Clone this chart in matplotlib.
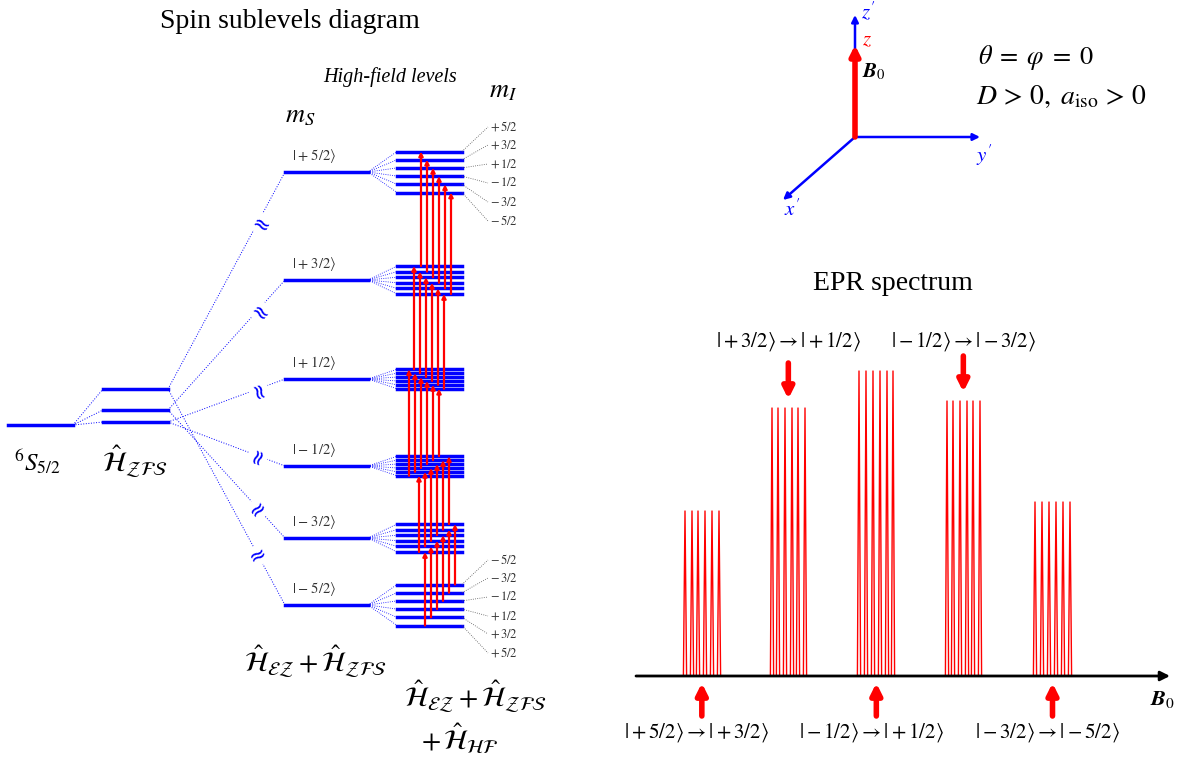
import numpy as np
import matplotlib.pyplot as plt

plt.rcParams['font.family'] = ['Liberation Serif', 'DejaVu Serif']
plt.rcParams['mathtext.fontset'] = 'stix'

# --- level diagram (picture pixel units, y grows downward) ---
ms_labels = ['+5/2', '+3/2', '+1/2', '-1/2', '-3/2', '-5/2']
ms_y = [172, 280, 379, 466, 538, 605]
ms_sign = [1, 1, 1, -1, -1, -1]
hf_step = [8.2, 5.6, 3.9, 3.9, 5.6, 8.2]      # gap between neighbouring m_I lines
mi_values = [2.5, 1.5, 0.5, -0.5, -1.5, -2.5]
zfs_y = [389, 410, 422]
zfs_of_ms = [0, 1, 2, 2, 1, 0]
s_y = 425
arrow_x0 = [421, 414, 409, 419, 425]        # first arrow of each Δm_S=1 set, top to bottom
arrow_dx = 6
mi_top_y = [127, 145, 164, 183, 202, 221]
mi_top_txt = ['+5/2', '+3/2', '+1/2', '-1/2', '-3/2', '-5/2']
mi_bot_y = [560, 578, 597, 616, 634, 653]
mi_bot_txt = ['-5/2', '-3/2', '-1/2', '+1/2', '+3/2', '+5/2']

# --- EPR spectrum ---
spec_lines = [
    [685, 692, 698, 705, 712, 719],
    [772, 778, 785, 792, 798, 805],
    [859, 866, 873, 880, 887, 893],
    [947, 953, 960, 967, 973, 980],
    [1035, 1042, 1049, 1056, 1063, 1070],
]
spec_top = [511, 408, 371, 401, 502]
baseline_y = 676
spec_labels = [r'$|+5/2\rangle \rightarrow |+3/2\rangle$',
               r'$|+3/2\rangle \rightarrow |+1/2\rangle$',
               r'$|-1/2\rangle \rightarrow |+1/2\rangle$',
               r'$|-1/2\rangle \rightarrow |-3/2\rangle$',
               r'$|-3/2\rangle \rightarrow |-5/2\rangle$']

BLUE = '#0000ff'
RED = '#ff0000'

fig = plt.figure(figsize=(11.84, 7.58), dpi=100)
ax = fig.add_axes([0, 0, 1, 1])
ax.set_xlim(0, 1184)
ax.set_ylim(758, 0)
ax.axis('off')


def fmt(s):
    return '$' + s[0] + r'\,' + s[1:] + '$'


def line_y(j, mi):
    return ms_y[j] - ms_sign[j] * hf_step[j] * mi


# titles
ax.text(290, 22, 'Spin sublevels diagram', fontsize=20, ha='center', va='center')
ax.text(390, 77, 'High-field levels', fontsize=14.5, style='italic', ha='center', va='center')
ax.text(300, 117, r'$m_S$', fontsize=19, ha='center', va='center')
ax.text(503, 92, r'$m_I$', fontsize=19, ha='center', va='center')

# 6S5/2 and ZFS levels
ax.plot([8, 73], [s_y, s_y], color=BLUE, lw=2.5)
for zy in zfs_y:
    ax.plot([103, 168], [zy, zy], color=BLUE, lw=2.5)
    ax.plot([73, 103], [s_y, zy], color=BLUE, lw=0.7, ls=':')
ax.text(37, 462, r'$^{6}S_{5/2}$', fontsize=18, ha='center', va='center')
ax.text(135, 462, r'$\hat{\mathcal{H}}_{\mathcal{ZFS}}$', fontsize=20, ha='center', va='center')

# m_S levels with break marks
for j, y in enumerate(ms_y):
    zy = zfs_y[zfs_of_ms[j]]
    ax.plot([168, 285], [zy, y], color=BLUE, lw=0.7, ls=':')
    t = 0.77
    bx, by = 168 + t * 117, zy + t * (y - zy)
    ang = np.degrees(np.arctan2(-(y - zy), 117))
    ax.text(bx, by, '≈', fontsize=15, color=BLUE, rotation=ang + 90,
            ha='center', va='center', rotation_mode='anchor', family='DejaVu Sans',
            bbox=dict(fc='white', ec='none', pad=0.0))
    ax.plot([285, 368], [y, y], color=BLUE, lw=2.5)
    ax.text(292, y - 16, r'$|' + ms_labels[j][0] + r'\,' + ms_labels[j][1:] + r'\rangle$',
            fontsize=10.5, color='#333333', ha='left', va='center')
    for mi in mi_values:
        ly = line_y(j, mi)
        ax.plot([368, 397], [y, ly], color=BLUE, lw=0.6, ls=':')
        ax.plot([397, 462], [ly, ly], color=BLUE, lw=2.5)

ax.text(315, 662, r'$\hat{\mathcal{H}}_{\mathcal{EZ}} + \hat{\mathcal{H}}_{\mathcal{ZFS}}$',
        fontsize=20, ha='center', va='center')
ax.text(475, 697, r'$\hat{\mathcal{H}}_{\mathcal{EZ}} + \hat{\mathcal{H}}_{\mathcal{ZFS}}$',
        fontsize=20, ha='center', va='center')
ax.text(460, 738, r'$+\,\hat{\mathcal{H}}_{\mathcal{HF}}$', fontsize=20, ha='center', va='center')

# m_I labels
for k, mi in enumerate(mi_values):
    ax.plot([462, 488], [line_y(0, mi), mi_top_y[k]], color='#555555', lw=0.6, ls=':')
    ax.text(490, mi_top_y[k], fmt(mi_top_txt[k]), fontsize=9, color='#333333', va='center')
    ax.plot([462, 488], [line_y(5, mi_values[5 - k]), mi_bot_y[k]], color='#555555', lw=0.6, ls=':')
    ax.text(490, mi_bot_y[k], fmt(mi_bot_txt[k]), fontsize=9, color='#333333', va='center')

# allowed transitions (Δm_S = 1, Δm_I = 0)
for i in range(5):
    for k, mi in enumerate(mi_values):
        x = arrow_x0[i] + k * arrow_dx
        ax.annotate('', xy=(x, line_y(i, mi)), xytext=(x, line_y(i + 1, mi)),
                    arrowprops=dict(arrowstyle='-|>', color=RED, lw=1.6,
                                    mutation_scale=6, shrinkA=0, shrinkB=0))

# --- frame axes (top right) ---
org = (855, 137)
for tip in [(855, 15), (980, 137), (783, 200)]:
    ax.annotate('', xy=tip, xytext=org,
                arrowprops=dict(arrowstyle='-|>', color=BLUE, lw=1.8,
                                mutation_scale=10, shrinkA=0, shrinkB=0))
ax.annotate('', xy=(855, 45), xytext=org,
            arrowprops=dict(arrowstyle='-|>', color=RED, lw=4,
                            mutation_scale=14, shrinkA=0, shrinkB=0))
ax.text(868, 12, r"$z'$", fontsize=15, color=BLUE, ha='center', va='center')
ax.text(867, 41, r'$z$', fontsize=15, color=RED, ha='center', va='center')
ax.text(874, 72, r'$\mathbfit{B}_0$', fontsize=15, ha='center', va='center')
ax.text(984, 155, r"$y'$", fontsize=15, color=BLUE, ha='center', va='center')
ax.text(792, 210, r"$x'$", fontsize=15, color=BLUE, ha='center', va='center')
ax.text(978, 58, r'$\theta\; =\; \varphi\; =\; 0$', fontsize=19, ha='left', va='center')
ax.text(976, 97, r'$D\, >\, 0,\; a_{\rm iso}\, >\, 0$', fontsize=20, ha='left', va='center')

# --- EPR spectrum ---
ax.text(893, 283, 'EPR spectrum', fontsize=20, ha='center', va='center')
ax.annotate('', xy=(1170, baseline_y), xytext=(636, baseline_y),
            arrowprops=dict(arrowstyle='-|>', color='black', lw=2,
                            mutation_scale=14, shrinkA=0, shrinkB=0))
ax.text(1163, 700, r'$\mathbfit{B}_0$', fontsize=16, ha='center', va='center')
for g, xs in enumerate(spec_lines):
    for x in xs:
        ax.plot([x - 1.6, x, x + 1.6], [baseline_y, spec_top[g], baseline_y],
                color=RED, lw=1.0)
    xc = np.mean(xs)
    if g % 2 == 0:
        ax.annotate('', xy=(xc, 683), xytext=(xc, 716),
                    arrowprops=dict(arrowstyle='-|>', color=RED, lw=4,
                                    mutation_scale=16, shrinkA=0, shrinkB=0))
        ax.text(xc - 5, 733, spec_labels[g], fontsize=15, ha='center', va='center')
    else:
        ax.annotate('', xy=(xc, spec_top[g] - 9), xytext=(xc, spec_top[g] - 45),
                    arrowprops=dict(arrowstyle='-|>', color=RED, lw=4,
                                    mutation_scale=16, shrinkA=0, shrinkB=0))
        ax.text(xc, 342, spec_labels[g], fontsize=15, ha='center', va='center')

fig.savefig('out.png', dpi=100)
